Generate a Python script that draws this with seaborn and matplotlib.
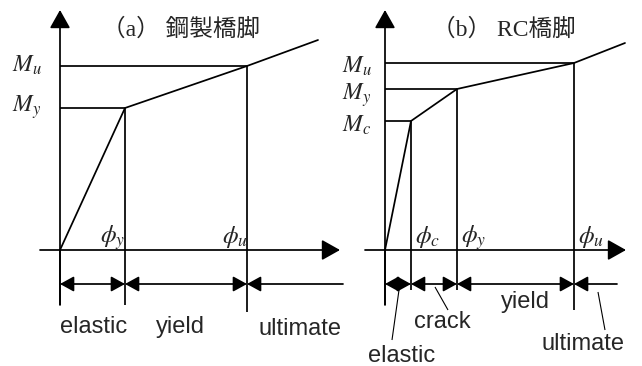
import matplotlib
matplotlib.use("Agg")
import matplotlib.pyplot as plt
import seaborn as sns
import pandas as pd
from matplotlib.patches import FancyArrowPatch

# ---------------- data ----------------
# (a) steel pier: curvature phi vs moment M at the break points (origin, yield, ultimate, end)
phi_a = [0, 65, 187, 258]
M_a = [0, 142, 184, 210]
mlabels_a = ["$M_y$", "$M_u$"]
philabels_a = ["$\\phi_y$", "$\\phi_u$"]
zones_a = ["elastic", "yield", "ultimate"]
title_a = "（a） 鋼製橋脚"

# (b) RC pier: origin, crack, yield, ultimate, end
phi_b = [0, 26, 72, 189, 240]
M_b = [0, 129, 161, 187, 207]
mlabels_b = ["$M_c$", "$M_y$", "$M_u$"]
philabels_b = ["$\\phi_c$", "$\\phi_y$", "$\\phi_u$"]
zones_b = ["elastic", "crack", "yield", "ultimate"]
title_b = "（b） RC橋脚"

# ---------------- style ----------------
sns.set_theme(style="white")
plt.rcParams["mathtext.fontset"] = "stix"
plt.rcParams["font.family"] = ["Liberation Sans", "DejaVu Sans"]
TITLE_FAMILY = ["Liberation Serif", "Noto Sans CJK JP"]
LW = 1.25
K = "black"

fig = plt.figure(figsize=(6.42, 3.66), dpi=100)
ax = fig.add_axes([0, 0, 1, 1])
ax.set_xlim(0, 642)
ax.set_ylim(366, 0)
ax.axis("off")


def seg(x0, y0, x1, y1, lw=LW):
    ax.plot([x0, x1], [y0, y1], color=K, lw=lw, solid_capstyle="butt")


def arrow(x0, y0, x1, y1, style, hl=0.6, hw=0.33, ms=14, lw=LW):
    ax.add_patch(FancyArrowPatch((x0, y0), (x1, y1),
                                 arrowstyle=f"{style},head_length={hl},head_width={hw}",
                                 mutation_scale=ms, color=K, lw=lw,
                                 shrinkA=0, shrinkB=0))


def panel(ox, oy, phi, M, mlabels, philabels, x_start, x_end, vbottoms,
          dim_y, dim_end, mlab_x, mlab_base, phi_off):
    xs = [ox + p for p in phi]
    ys = [oy - m for m in M]
    # axes with arrows
    arrow(ox, 305, ox, 10, "-|>", hl=0.8, hw=0.45)
    arrow(x_start, oy, x_end, oy, "-|>", hl=0.8, hw=0.45)
    # curve through seaborn
    df = pd.DataFrame({"phi": xs, "M": ys})
    sns.lineplot(data=df, x="phi", y="M", sort=False, estimator=None,
                 color=K, lw=LW, ax=ax)
    # guide lines for each break point (skip origin and end)
    for i, (x, y) in enumerate(zip(xs[1:-1], ys[1:-1])):
        seg(ox, y, x, y)
        seg(x, y, x, vbottoms[i])
        ax.text(mlab_x, mlab_base[i], mlabels[i], fontsize=17, ha="left",
                va="baseline")
        ax.text(x + phi_off, oy - 7, philabels[i], fontsize=18, ha="left",
                va="baseline")
    # dimension arrows
    marks = [ox] + xs[1:-1]
    for a, b in zip(marks[:-1], marks[1:]):
        arrow(a, dim_y, b, dim_y, "<|-|>")
    arrow(marks[-1], dim_y, dim_end, dim_y, "<|-")
    return xs


panel(60, 250, phi_a, M_a, mlabels_a, philabels_a, 40, 340,
      [305, 312], 284, 343, 12, [112, 72], -25)
panel(385, 250, phi_b, M_b, mlabels_b, philabels_b, 365, 626,
      [290, 290, 310], 284, 617, 342, [132, 100, 73], 4)
# y-axis lower stubs
seg(60, 250, 60, 305)
seg(385, 250, 385, 305)

# titles
ax.text(102, 30, title_a, fontsize=17, family=TITLE_FAMILY, ha="left", va="center")
ax.text(432, 30, title_b, fontsize=17, family=TITLE_FAMILY, ha="left", va="center")

# zone labels (a)
for (x, y), t in zip([(94, 333), (180, 333), (300, 335)], zones_a):
    ax.text(x, y, t, fontsize=17, ha="center", va="baseline")

# zone labels (b) with leader lines
for (x, y), t in zip([(402, 362), (442, 328), (525, 308), (583, 350)], zones_b):
    ax.text(x, y, t, fontsize=17, ha="center", va="baseline")
seg(399, 290, 392, 340, lw=0.8)
seg(435, 287, 448, 310, lw=0.8)
seg(598, 292, 605, 330, lw=0.8)

fig.savefig("out.png", dpi=100)
